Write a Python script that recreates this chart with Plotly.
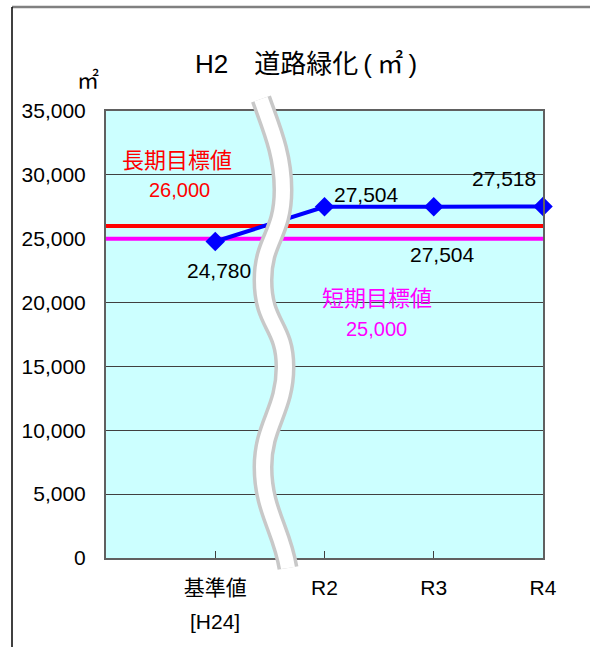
import plotly.graph_objects as go

# ---- data ----
categories = ["基準値", "R2", "R3", "R4"]
sub_labels = ["[H24]", "", "", ""]
values = [24780, 27504, 27504, 27518]
long_target = 26000
short_target = 25000
long_label = "長期目標値"
short_label = "短期目標値"
y_ticks = [0, 5000, 10000, 15000, 20000, 25000, 30000, 35000]
title_text = "H2\u3000道路緑化\u2009(\u2009㎡\u2009)"
unit_text = "㎡"

W, H = 590, 647
ML, MR, MT, MB = 106, 47, 111, 89
PW, PH = W - ML - MR, H - MT - MB

x_idx = list(range(len(categories)))
x_range = [-1, len(categories) - 1]

FONT = "Liberation Sans, Noto Sans CJK JP, sans-serif"


def px(xp, yp):
    return (xp - ML) / PW, (H - MB - yp) / PH


def path_from(points):
    parts = []
    for cmd, pts in points:
        coords = " ".join(f"{px(a, b)[0]:.4f},{px(a, b)[1]:.4f}" for a, b in pts)
        parts.append(f"{cmd} {coords}")
    return " ".join(parts)


fig = go.Figure()

fig.add_trace(go.Scatter(x=x_range, y=[long_target] * 2, mode="lines",
                         line=dict(color="#FF0000", width=4), hoverinfo="skip",
                         showlegend=False))
fig.add_trace(go.Scatter(x=x_range, y=[short_target] * 2, mode="lines",
                         line=dict(color="#FF00FF", width=4), hoverinfo="skip",
                         showlegend=False))
fig.add_trace(go.Scatter(x=x_idx, y=values, mode="lines+markers",
                         line=dict(color="#0000FF", width=4),
                         marker=dict(symbol="diamond", size=15, color="#0000FF"),
                         cliponaxis=False, hoverinfo="skip", showlegend=False))

# data labels
shifts = [(4, -29), (42, 12), (9, -48), (-39, 28)]
for xi, v, (dx, dy) in zip(x_idx, values, shifts):
    fig.add_annotation(x=xi, y=v, xref="x", yref="y", text=f"{v:,}",
                       showarrow=False, xshift=dx, yshift=dy,
                       font=dict(size=21, color="black", family=FONT))

# target labels
fig.add_annotation(x=-0.35, y=long_target, text=long_label, showarrow=False,
                   yshift=65, font=dict(size=22, color="#FF0000", family=FONT))
fig.add_annotation(x=-0.33, y=long_target, text=f"{long_target:,}", showarrow=False,
                   yshift=36, font=dict(size=20, color="#FF0000", family=FONT))
fig.add_annotation(x=1.48, y=short_target, text=short_label, showarrow=False,
                   yshift=-60, font=dict(size=22, color="#FF00FF", family=FONT))
fig.add_annotation(x=1.48, y=short_target, text=f"{short_target:,}", showarrow=False,
                   yshift=-90, font=dict(size=20, color="#FF00FF", family=FONT))

# sub labels under category ticks
for xi, s in zip(x_idx, sub_labels):
    if s:
        fig.add_annotation(x=xi, y=px(0, 621)[1], xref="x", yref="paper", text=s,
                           showarrow=False, xanchor="center", yanchor="middle",
                           font=dict(size=21, color="black", family=FONT))

# unit label
ux, uy = px(88, 80)
fig.add_annotation(x=ux, y=uy, xref="paper", yref="paper", text=unit_text,
                   showarrow=False, xanchor="center", yanchor="middle",
                   font=dict(size=22, color="black", family=FONT))

# break band (decoration)
band = [
    ("M", [(261, 99)]),
    ("C", [(272, 130), (283, 155), (283, 190)]),
    ("C", [(283, 235), (263, 240), (263, 280)]),
    ("C", [(263, 325), (285, 325), (285, 367)]),
    ("C", [(285, 410), (263, 425), (263, 467)]),
    ("C", [(263, 510), (282, 530), (288, 568)]),
]
bp = path_from(band)
fig.add_shape(type="path", path=bp, xref="paper", yref="paper",
              line=dict(color="#C8C8C8", width=21), layer="above")
fig.add_shape(type="path", path=bp, xref="paper", yref="paper",
              line=dict(color="#FFFFFF", width=14), layer="above")

# outer frame
x0, y0 = px(12, 7)
x1, _ = px(640, 7)
_, yb = px(12, 700)
fig.add_shape(type="line", xref="paper", yref="paper", x0=x0, y0=y0, x1=x1, y1=y0,
              line=dict(color="#808080", width=2.5))
fig.add_shape(type="line", xref="paper", yref="paper", x0=x0, y0=y0, x1=x0, y1=yb,
              line=dict(color="#000000", width=1.5))

fig.update_layout(
    width=W, height=H,
    margin=dict(l=ML, r=MR, t=MT, b=MB),
    paper_bgcolor="white", plot_bgcolor="#CCFFFF",
    font=dict(family=FONT, size=20, color="black"),
    title=dict(text=title_text, x=306 / W, y=1 - 64 / H, xanchor="center",
               yanchor="middle", font=dict(size=26, color="black", family=FONT)),
    showlegend=False,
    hovermode=False,
)
fig.update_xaxes(range=x_range, tickvals=x_idx, ticktext=categories,
                 showgrid=False, zeroline=False, showline=True, mirror=True,
                 linecolor="#606060", linewidth=2, ticks="inside", ticklen=7,
                 tickcolor="#404040", ticklabelstandoff=10,
                 tickfont=dict(size=21, family=FONT))
fig.update_yaxes(range=[0, 35000], tickvals=y_ticks,
                 ticktext=[f"{t:,}" for t in y_ticks],
                 showgrid=True, gridcolor="#404040", gridwidth=1,
                 zeroline=False, showline=True, mirror=True,
                 linecolor="#606060", linewidth=2, ticks="",
                 ticklabelstandoff=14, tickfont=dict(size=21, family=FONT))

fig.write_html("out.html", config={"displayModeBar": False},
               post_script="document.body.style.margin='0';"
                           "document.body.style.overflow='hidden';")
